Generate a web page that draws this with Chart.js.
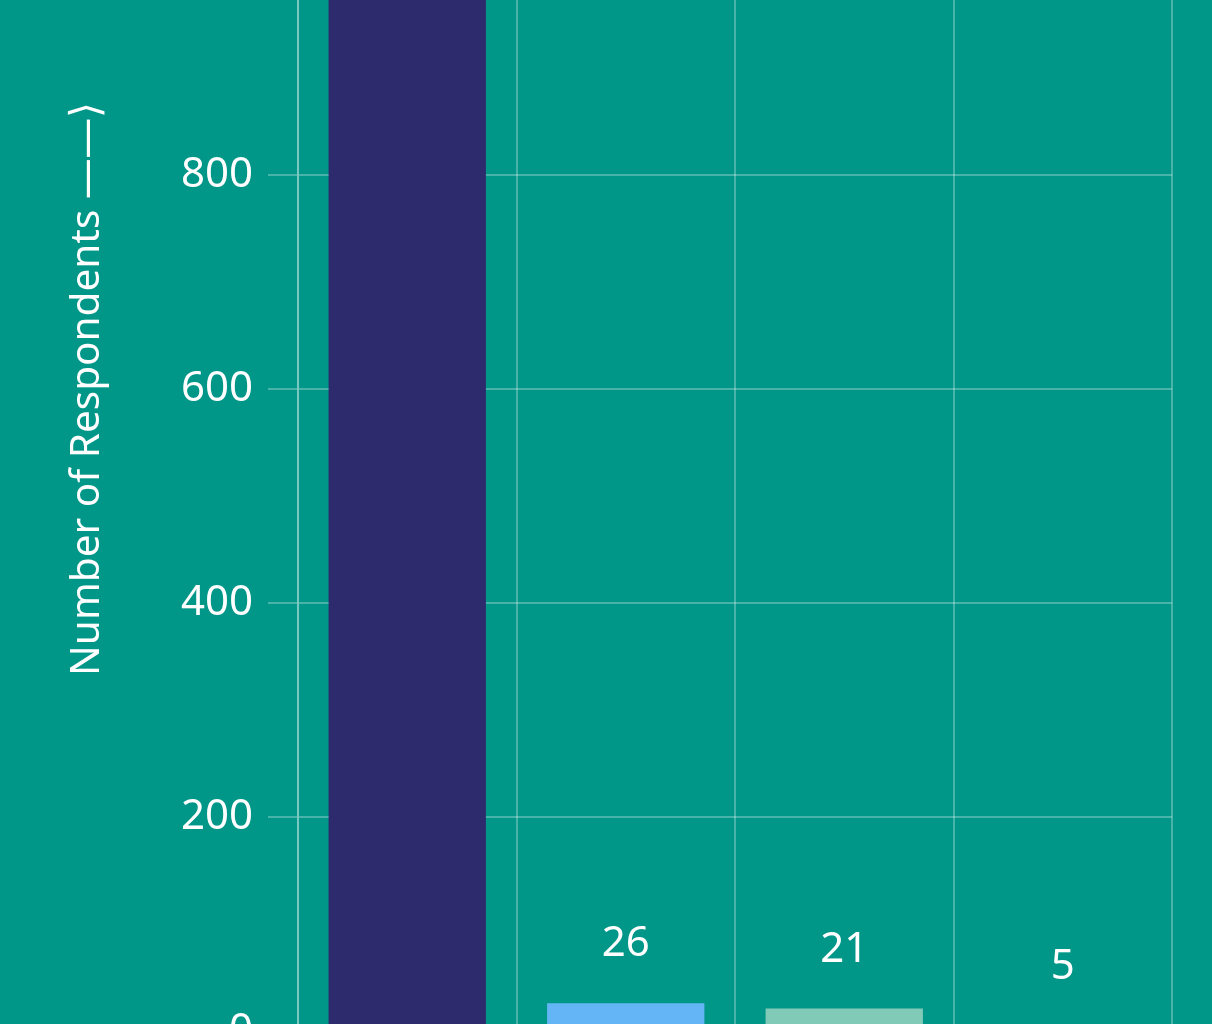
<!DOCTYPE html>
<html>
<head>
<meta charset="utf-8">
<title>Number of Respondents</title>
<script src="https://cdn.jsdelivr.net/npm/chart.js@4.4.1/dist/chart.umd.min.js"></script>
<style>
  html, body { margin: 0; padding: 0; background: #009688; overflow: hidden; width: 1212px; height: 1024px; }
  #wrap { position: absolute; left: 0; top: -300px; width: 1212px; height: 1400px; }
</style>
</head>
<body>
<div id="wrap"><canvas id="barChart" width="1212" height="1400"></canvas></div>
<script>
// Survey answers (category names are off-picture in the reference)
const categories = ['Answer 1', 'Answer 2', 'Answer 3', 'Answer 4'];
const respondents = [1104, 26, 21, 5];
const barColors = ['#2d2a6e', '#64b5f6', '#82cab8', '#ffb74d'];
const yTicks = [0, 200, 400, 600, 800, 1000, 1200];

const gridColor = 'rgba(255, 255, 255, 0.28)';
const font = { family: '"Noto Sans", sans-serif', size: 42 };

// draws the count above every bar
const valueLabels = {
    id: 'valueLabels',
    afterDatasetsDraw(chart) {
        const ctx = chart.ctx;
        const meta = chart.getDatasetMeta(0);
        ctx.save();
        ctx.fillStyle = '#ffffff';
        ctx.font = `${font.size}px ${font.family}`;
        ctx.textAlign = 'center';
        ctx.textBaseline = 'alphabetic';
        meta.data.forEach((bar, i) => {
            ctx.fillText(String(respondents[i]), bar.x, bar.y - 47);
        });
        ctx.restore();
    }
};

new Chart(document.getElementById('barChart'), {
    type: 'bar',
    data: {
        labels: categories,
        datasets: [{
            data: respondents,
            backgroundColor: barColors,
            borderWidth: 0
        }]
    },
    options: {
        responsive: false,
        animation: false,
        layout: { padding: { top: 47, left: 0, right: 40, bottom: 69 } },
        plugins: {
            legend: { display: false },
            tooltip: { enabled: false }
        },
        scales: {
            x: {
                ticks: { display: false },
                grid: { color: gridColor, lineWidth: 2, drawTicks: false, offset: true },
                border: { display: false }
            },
            y: {
                min: 0,
                max: yTicks[yTicks.length - 1],
                afterBuildTicks(scale) {
                    scale.ticks = yTicks.map(v => ({ value: v }));
                },
                afterFit(scale) {
                    scale.width = 298;
                },
                ticks: { color: '#ffffff', font: font, padding: 15 },
                grid: { color: gridColor, lineWidth: 2, tickLength: 30 },
                border: { color: gridColor, width: 2 },
                title: {
                    display: true,
                    text: 'Number of Respondents ——⟩',
                    color: '#ffffff',
                    font: { family: font.family, size: 40.5 },
                    padding: { top: 63, bottom: 0 }
                }
            }
        }
    },
    plugins: [valueLabels]
});
</script>
</body>
</html>
